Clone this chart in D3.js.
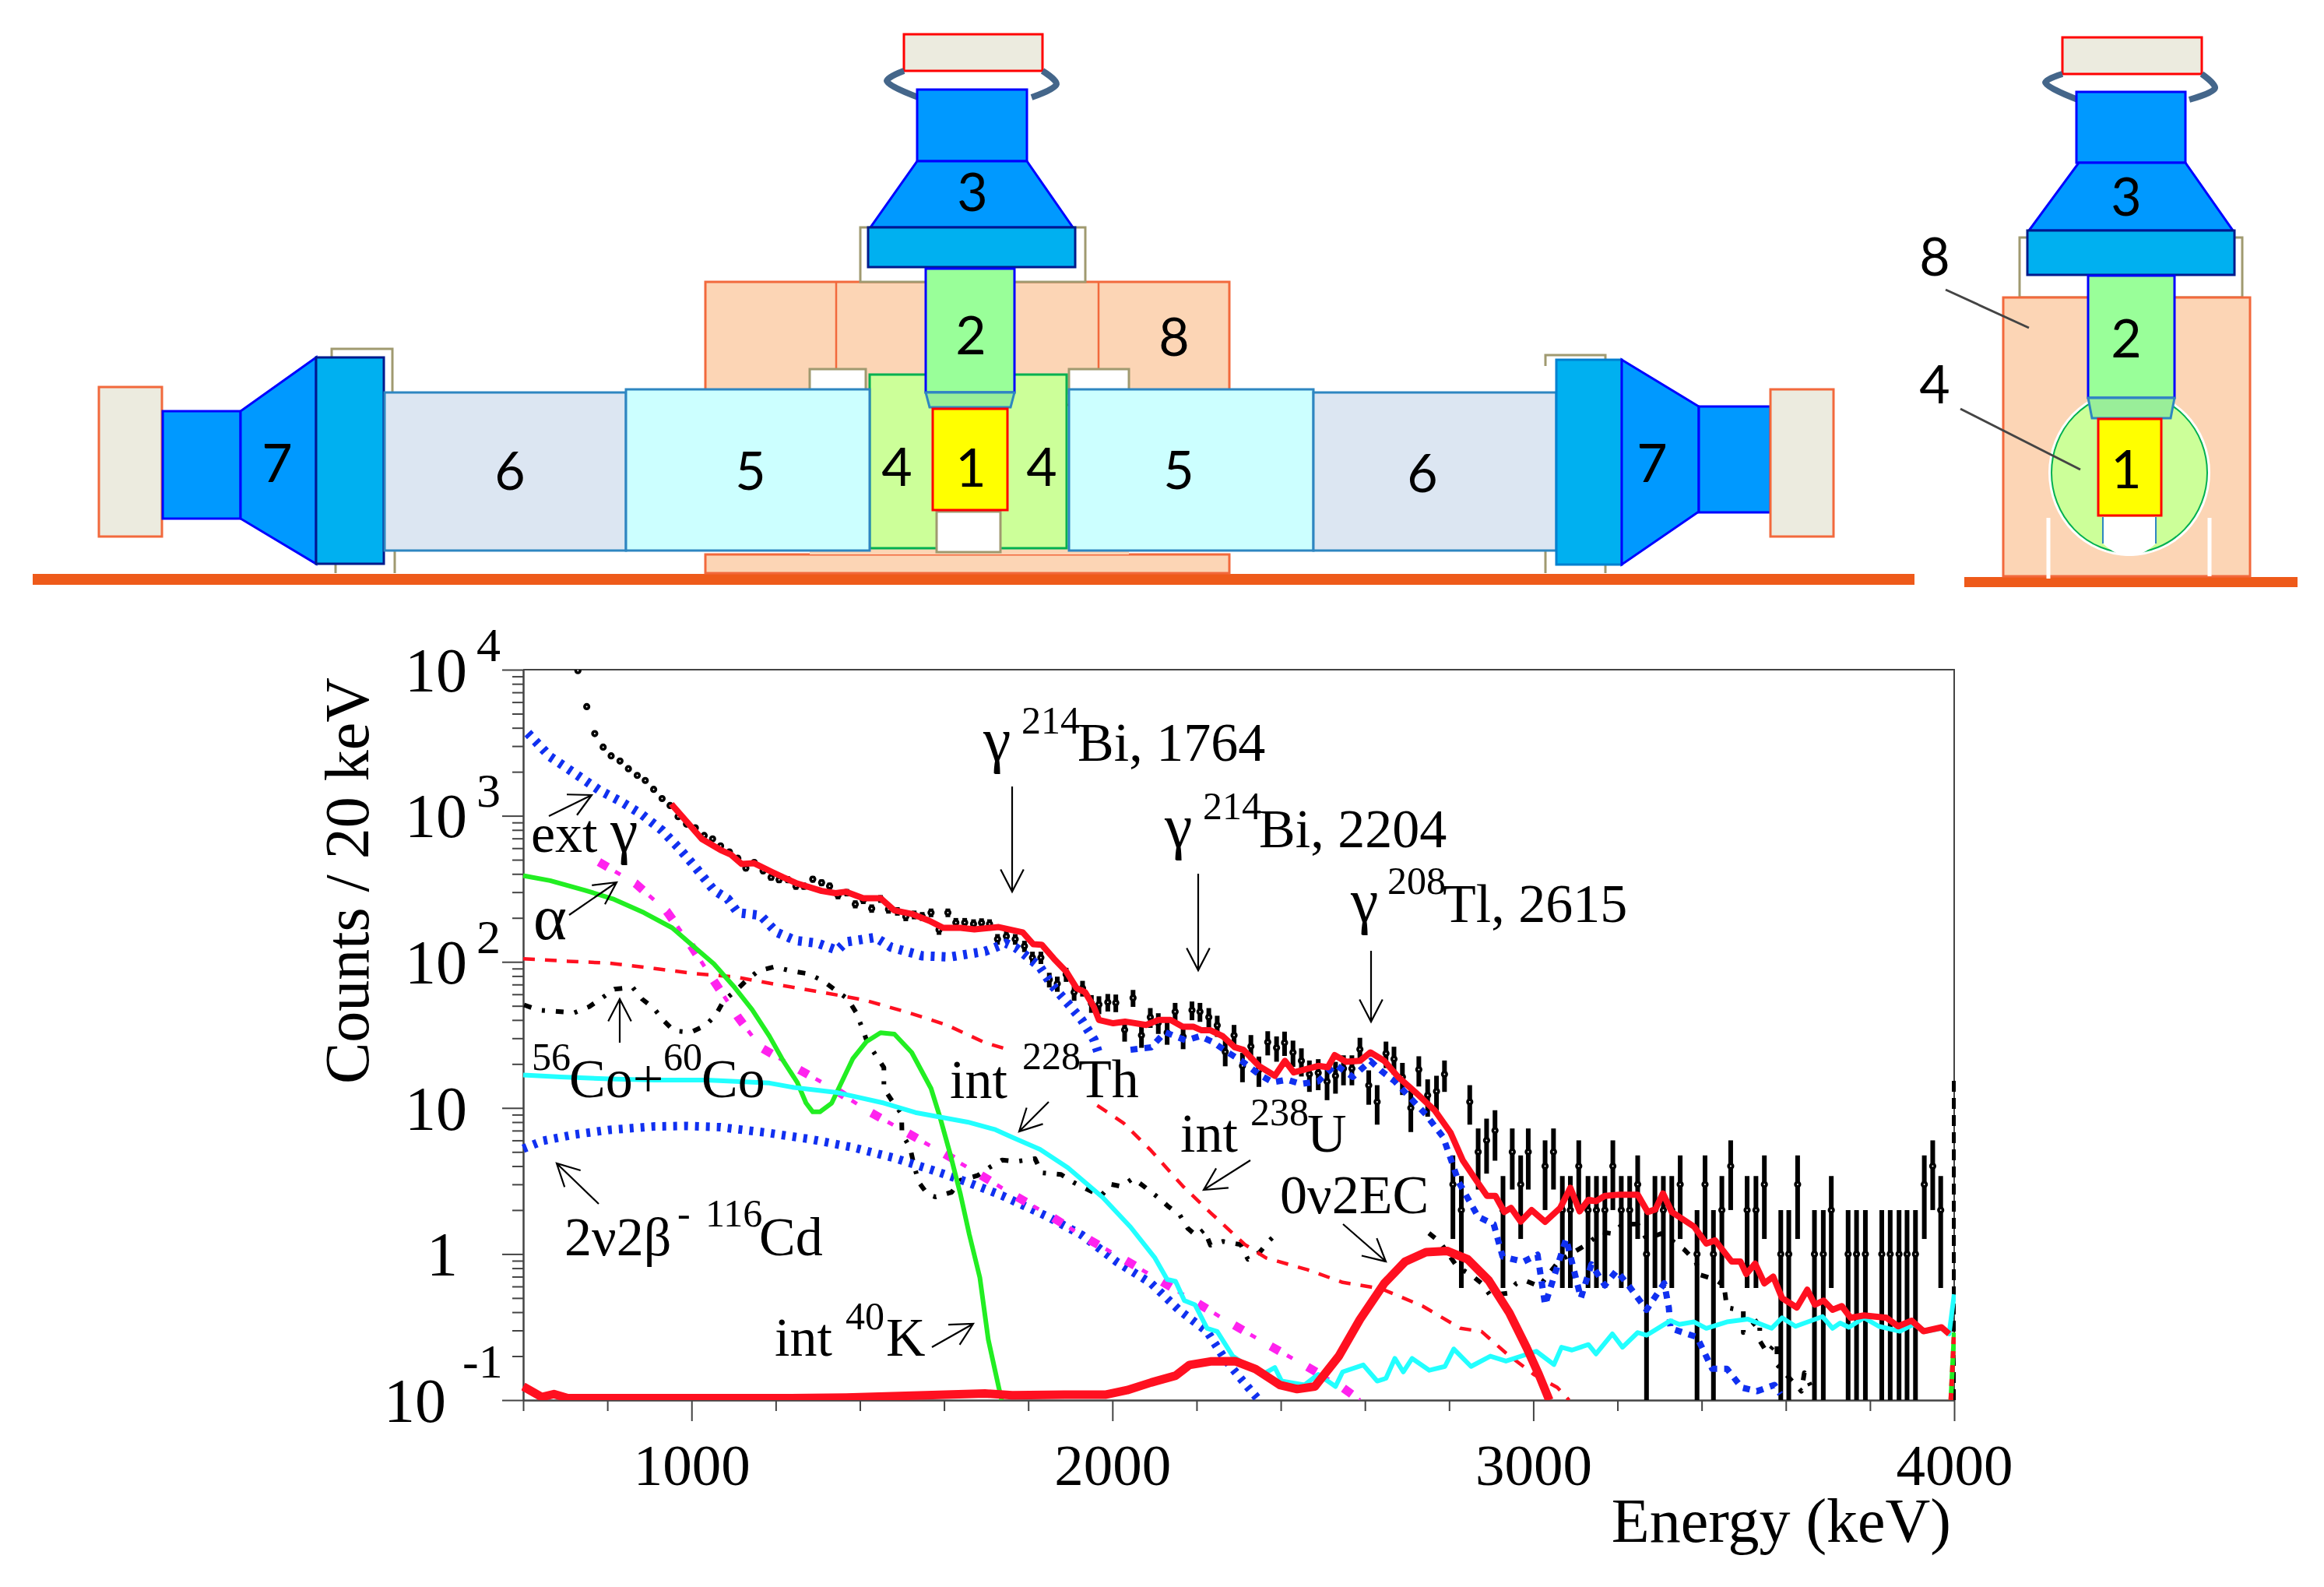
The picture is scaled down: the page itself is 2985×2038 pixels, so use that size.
<!DOCTYPE html>
<html>
<head>
<meta charset="utf-8">
<title>Spectrum</title>
<script src="https://cdn.jsdelivr.net/npm/d3@7"></script>
<style>
  body { margin: 0; background: #fff; }
  text { font-family: "Liberation Serif", serif; fill: #000; }
  .part { font-family: Lato, sans-serif; font-size: 68px; }
</style>
</head>
<body>
<div id="chart"></div>
<script>
// Values: [energy keV, counts / 20 keV]
const dataPoints = [
  [730,9860],[751,5585],[770,3650],[790,2950],[809,2570],[830,2370],[850,2100],[871,1890],[890,1745],[910,1517],
  [930,1312],[949,1175],[968,987],[988,877],[1009,828],[1030,733],[1050,695],[1069,622],[1090,565],[1110,512],
  [1129,438],[1149,479],[1170,420],[1189,379],[1208,365],[1229,365],[1248,330],[1267,330],[1288,368],[1309,348],
  [1328,330],[1348,285],[1369,298],[1389,248],[1408,265],[1428,232],[1449,270],[1468,229],[1489,222],[1509,204],
  [1529,210],[1548,205],[1569,217],[1588,166],[1609,217],[1628,186],[1649,186],[1670,182],[1689,185],[1708,182],
  [1727,143],[1748,150],[1769,143],[1791,128],[1810,107],[1830,107],[1850,75.5],[1869,70.8],[1890,82],[1909,62],
  [1929,66],[1950,52],[1968,51],[1989,53],[2008,52.5],[2029,34.3],[2049,56.7],[2069,31.4],[2090,41.8],[2109,38.3],
  [2130,32.8],[2149,45.6],[2168,30.8],[2189,46.7],[2208,45.6],[2229,41.8],[2249,36.7],[2268,24.2],[2289,31.4],[2309,19.4],
  [2329,26.4],[2348,18.2],[2369,28.2],[2390,25.8],[2409,28],[2429,24],[2449,21],[2468,17],[2489,17.4],[2510,15.2],
  [2530,16.6],[2549,18.6],[2569,18.6],[2588,25.2],[2609,14.3],[2629,11],[2650,23.6],[2669,21.6],[2689,16.3],[2709,10],
  [2728,18.3],[2749,12.2],[2770,13],[2789,17],[2809,3],[2829,2],[2849,11],[2869,5],[2889,6],[2909,7],
  [2928,2],[2950,5],[2970,3],[2988,5],[3028,4],[3048,5],[3069,2],[3088,2],[3108,4],[3130,2],
  [3150,2],[3170,2],[3189,4],[3209,2],[3229,2],[3248,3],[3269,1],[3289,2],[3309,2],[3329,2],
  [3349,3],[3389,1],[3408,3],[3428,1],[3448,2],[3469,4],[3508,2],[3529,2],[3549,3],[3588,1],
  [3607,1],[3628,3],[3668,1],[3689,1],[3708,2],[3748,1],[3768,1],[3789,1],[3828,1],[3848,1],
  [3869,1],[3888,1],[3908,1],[3929,3],[3949,4],[3968,2]
];

const totalFit = [
  [952,1202],[978,987],[1024,695],[1069,583],[1094,541],[1119,468],[1148,474],[1193,410],[1218,379],[1251,344],
  [1309,306],[1342,295],[1367,302],[1408,273],[1449,273],[1482,225],[1523,213],[1565,191],[1598,171],[1639,171],
  [1672,167],[1730,173],[1787,159],[1812,132],[1832,131],[1861,105],[1890,86],[1915,66],[1935,62],[1956,49],
  [1968,40],[2002,38],[2030,39],[2080,37],[2109,40],[2138,40],[2167,36],[2192,36],[2212,34],[2233,34],
  [2262,31],[2291,26],[2311,25],[2348,19.4],[2386,16.6],[2410,21],[2431,17.5],[2489,19.4],[2512,19],[2528,23],
  [2555,20.7],[2588,21],[2613,24],[2646,21],[2679,16.3],[2720,12.8],[2766,9.6],[2803,6.8],[2832,4.4],[2861,3.3],
  [2890,2.5],[2910,2.5],[2931,1.94],[2947,2.07],[2970,1.67],[2996,2],[3028,1.66],[3064,2.07],[3088,2.84],[3110,1.96],
  [3131,2.35],[3149,2.3],[3170,2.5],[3205,2.55],[3248,2.55],[3272,1.94],[3290,2.02],[3308,2.6],[3329,1.94],[3382,1.54],
  [3411,1.18],[3432,1.24],[3471,0.89],[3492,0.89],[3506,0.73],[3527,0.86],[3549,0.63],[3570,0.7],[3591,0.5],[3626,0.43],
  [3651,0.57],[3669,0.45],[3690,0.48],[3711,0.415],[3733,0.44],[3754,0.366],[3786,0.38],[3839,0.366],[3867,0.32],[3899,0.35],
  [3927,0.296],[3970,0.315],[3988,0.284]
];

const extGammaA = [
  [611,3680],[664,2535],[713,2035],[781,1496],[831,1256],[880,1031],[930,793],[971,596],[1011,438],[1053,309],
  [1086,270],[1110,217],[1164,208],[1201,160],[1247,140],[1300,134],[1346,120],[1367,137],[1437,147],[1474,126],
  [1548,110],[1614,108],[1697,118],[1747,134],[1770,125],[1795,110],[1828,92],[1857,69],[1894,52],[1927,40],
  [1956,29.4],[1966,24]
];
const extGammaB = [
  [2043,25],[2092,26],[2125,33],[2175,29],[2208,31],[2241,28],[2274,24],[2307,21],[2348,17],[2381,15],
  [2415,15.6],[2448,14.6],[2489,15.2],[2530,19.8],[2571,16.3],[2613,21],[2638,18],[2671,15.2],[2708,11.7],[2745,9],
  [2786,6.3],[2823,3.1],[2869,1.8],[2906,1.6],[2927,0.96],[2976,0.885],[3010,0.99],[3028,0.45],[3078,1.27],[3113,0.5],
  [3138,0.85],[3170,0.61],[3198,0.77],[3226,0.61],[3269,0.415],[3311,0.63],[3322,0.43],[3326,0.31],[3389,0.27],[3425,0.164],
  [3460,0.164],[3495,0.122],[3531,0.115],[3573,0.127],[3587,0.11]
];

const alphaBg = [
  [780,483],[867,344],[941,222],[999,129],[1053,74],[1110,42],[1164,26],[1251,18.6],[1338,13.5],[1420,9.5],
  [1511,6.8],[1598,4.9],[1685,3.5],[1763,2.56],[1849,1.85],[1931,1.32],[2022,0.94],[2109,0.67],[2192,0.48],[2278,0.34],
  [2369,0.24],[2456,0.174],[2543,0.124],[2588,0.1]
];

const k40 = [
  [600,389],[664,360],[747,309],[813,270],[887,217],[954,171],[1003,129],[1053,97],[1102,67],[1144,47],
  [1185,31],[1218,21],[1251,15],[1272,10.8],[1288,9.4],[1305,9.4],[1333,10.8],[1383,21.7],[1416,28.5],[1449,32.7],
  [1482,32],[1523,24],[1569,13.6],[1590,8.7],[1614,4.9],[1639,2.56],[1660,1.36],[1685,0.69],[1705,0.26],[1730,0.122],
  [1737,0.1]
];

const th228A = [
  [600,105],[706,101],[805,98],[912,90],[1011,83],[1102,79],[1201,70],[1309,62],[1408,55],[1515,45],
  [1606,37],[1697,28],[1755,25]
];
const th228B = [
  [1964,10.4],[2026,7.9],[2092,5.1],[2167,2.92],[2233,1.92],[2315,1.16],[2365,0.94],[2464,0.78],[2547,0.64],[2638,0.58],
  [2737,0.44],[2827,0.31],[2877,0.295],[2935,0.21],[3001,0.15],[3057,0.122],[3085,0.1]
];

const cyanCurve = [
  [600,16.8],[689,16.3],[805,15.8],[912,15.5],[1036,15.5],[1185,14.8],[1243,13.8],[1342,12.8],[1457,10.8],[1532,9.3],
  [1656,8],[1722,7.1],[1762,6.3],[1828,5.2],[1894,3.9],[1977,2.44],[2043,1.53],[2101,0.94],[2130,0.67],[2150,0.65],
  [2171,0.48],[2196,0.45],[2225,0.31],[2249,0.295],[2286,0.2],[2332,0.163],[2357,0.15],[2386,0.167],[2402,0.135],[2456,0.127],
  [2489,0.15],[2530,0.124],[2547,0.156],[2596,0.174],[2629,0.135],[2650,0.141],[2671,0.193],[2691,0.156],[2712,0.193],[2753,0.16],
  [2790,0.17],[2811,0.224],[2852,0.17],[2898,0.2],[2935,0.185],[3007,0.216],[3049,0.175],[3067,0.23],[3092,0.22],[3131,0.24],
  [3149,0.207],[3188,0.284],[3212,0.23],[3248,0.29],[3269,0.278],[3326,0.35],[3347,0.33],[3382,0.343],[3411,0.31],[3460,0.343],
  [3510,0.358],[3566,0.31],[3591,0.366],[3623,0.32],[3687,0.373],[3711,0.31],[3729,0.337],[3750,0.315],[3786,0.366],[3821,0.32],
  [3871,0.296],[3903,0.33],[3934,0.296],[3970,0.31],[3988,0.284],[4000,0.53]
];

const cd2v2b = [
  [600,5.26],[648,5.97],[722,6.58],[805,7.08],[912,7.47],[987,7.53],[1069,7.38],[1177,6.78],[1284,6.1],[1383,5.37],
  [1482,4.54],[1573,3.75],[1656,3.1],[1738,2.51],[1845,1.81],[1927,1.35],[2010,0.885],[2092,0.63],[2158,0.414],[2225,0.295],
  [2266,0.193],[2307,0.138],[2348,0.1]
];

const ec0v2 = [
  [600,0.124],[644,0.105],[673,0.11],[706,0.103],[850,0.103],[1036,0.103],[1200,0.103],[1367,0.104],[1697,0.111],[1762,0.108],
  [1886,0.109],[1985,0.109],[2035,0.117],[2092,0.132],[2150,0.147],[2183,0.174],[2233,0.184],[2291,0.185],[2340,0.163],[2398,0.127],
  [2439,0.119],[2481,0.124],[2538,0.2],[2588,0.356],[2646,0.63],[2695,0.885],[2745,1.03],[2795,1.05],[2844,0.92],[2894,0.66],
  [2943,0.396],[2984,0.229],[3013,0.15],[3038,0.1]
];

// black dash-dot curve that the 56Co+60Co arrow points at
const blackA = [
  [602,50.7],[636,46.8],[677,45.8],[721,44.8],[757,49.3],[786,56.3],[817,65],[860,67],[882,55.8],[911,47.9],
  [933,39.8],[958,33.7],[999,33],[1034,36.8],[1058,43.5],[1077,54.6],[1104,63],[1129,74],[1158,86.5],[1197,92.5],
  [1238,86.5],[1278,82.8],[1313,74],[1342,64],[1371,55.8],[1391,45],[1405,35.5],[1418,28],[1439,22.7],[1457,18.9],
  [1457,13.6],[1478,11],[1499,9.1],[1500,6.6],[1519,5.4],[1529,4],[1540,3.1],[1561,2.56],[1580,2.46],[1618,2.65],
  [1639,3.2],[1680,3.45],[1707,3.9],[1738,4.4],[1772,4.3],[1816,4.5],[1832,3.6],[1878,3.5],[1907,3.1],[1940,2.77],
  [1973,2.5],[1997,3],[2022,2.9],[2049,3.3],[2078,2.86],[2106,2.47],[2134,2.1],[2160,1.85],[2179,1.5],[2200,1.33],
  [2218,1.47],[2233,1.15],[2263,1.22],[2305,1.16],[2322,0.92],[2350,1.03],[2372,1.23],[2398,1.45]
];
const blackB = [
  [2752,1.39],[2778,1.21],[2819,0.82],[2852,0.72],[2877,0.63],[2898,0.52],[2939,0.54],[2960,0.63],[2980,0.66],[3014,0.6],
  [3060,0.89],[3124,1.15],[3163,1.41],[3188,1.38],[3212,1.6],[3248,1.6],[3269,1.27],[3304,1.38],[3329,1.24],[3359,1.07],
  [3386,0.89],[3396,0.72],[3432,0.67],[3453,0.61],[3460,0.43],[3499,0.41],[3499,0.29],[3538,0.36],[3538,0.255],[3556,0.21],
  [3579,0.25],[3579,0.175],[3637,0.115],[3644,0.154],[3662,0.12]
];

// overflow bin at the right edge of the spectrum
const edgeBlack = [[4000,0.1],[4000,16]];
const edgeGreen = [[3992,0.1],[4000,0.29]];
const edgeRed = [[3992,0.1],[4000,0.29]];

const xMajor = [1000, 2000, 3000, 4000];
const xMinor = [600, 800, 1200, 1400, 1600, 1800, 2200, 2400, 2600, 2800, 3200, 3400, 3600, 3800];
const yMajor = [1e4, 1e3, 100, 10, 1, 0.1];
const yExponent = ["4", "3", "2", "", "", "-1"];
const yMantissa = ["10", "10", "10", "10", "1", "10"];

const width = 2985, height = 2038;
const plot = { left: 672, right: 2510, top: 860, bottom: 1798 };

const svg = d3.select("#chart").append("svg")
    .attr("width", width)
    .attr("height", height)
    .style("display", "block");

// ---------- detector drawing ----------
const draw = svg.append("g");
const BLUE = "#0099ff", FLANGE = "#00b0f0", ORANGE = "#fcd5b5", ORANGE_LINE = "#f2693c",
      OLIVE = "#a09a70", CREAM = "#ecebdf", STEEL = "#2e86c1", PALE = "#ccffff", GREY_BLUE = "#dce6f2";

function box(x0, y0, x1, y1, fill, stroke, sw = 3) {
  draw.append("rect").attr("x", x0).attr("y", y0).attr("width", x1 - x0).attr("height", y1 - y0)
      .attr("fill", fill).attr("stroke", stroke).attr("stroke-width", sw);
}
function poly(points, fill, stroke, sw = 3) {
  draw.append("polygon").attr("points", points.join(" "))
      .attr("fill", fill).attr("stroke", stroke).attr("stroke-width", sw);
}
function ring(p0, p1, p2) {
  draw.append("path").attr("fill", "none").attr("stroke", "#44668a").attr("stroke-width", 8)
      .attr("d", d3.line().curve(d3.curveCatmullRom)([p0, p1, p2]));
}
function part(label, x, y) {
  draw.append("text").attr("class", "part").attr("x", x).attr("y", y)
      .attr("text-anchor", "middle").attr("dominant-baseline", "central").text(label);
}

// floors
box(42, 737, 2459, 751, "#ee5a1a", "none", 0);
box(2523, 741, 2951, 754, "#ee5a1a", "none", 0);

// front view: lead, shield blocks
box(906, 362, 1579, 520, ORANGE, ORANGE_LINE);
box(906, 712, 1579, 736, ORANGE, ORANGE_LINE);
box(1040, 700, 1450, 712, ORANGE, "none", 0);
draw.append("path").attr("d", "M1074,362V474M1411,362V474").attr("stroke", ORANGE_LINE).attr("stroke-width", 2.5);
box(1040, 474, 1112, 505, "#fff", OLIVE);
box(1373, 474, 1450, 505, "#fff", OLIVE);
box(1105, 292, 1394, 362, "#fff", OLIVE);
box(1117, 481, 1370, 704, "#ccff99", "#00b050");
box(1203, 657, 1285, 709, "#fff", OLIVE);

// side olive frames
draw.append("path").attr("fill", "none").attr("stroke", OLIVE).attr("stroke-width", 3)
    .attr("d", "M426,470V448H504V510M431,720V736M507,700V736M1985,470V456H2062V470M1985,700V736M2062,720V736");

// left arm
box(127, 497, 208, 689, CREAM, ORANGE_LINE);
box(209, 528, 309, 666, BLUE, "#0000ff");
poly([[406, 459], [309, 528], [309, 666], [406, 724]], BLUE, "#0000ff");
box(406, 459, 493, 724, FLANGE, "#001a8c");
box(494, 504, 804, 707, GREY_BLUE, STEEL);
box(804, 500, 1117, 707, PALE, STEEL);

// right arm
box(1373, 500, 1687, 707, PALE, STEEL);
box(1687, 504, 1999, 707, GREY_BLUE, STEEL);
box(1999, 462, 2083, 725, FLANGE, "#0080d0");
poly([[2083, 462], [2182, 522], [2182, 657], [2083, 725]], BLUE, "#0000ff");
box(2182, 522, 2274, 658, BLUE, "#0000ff");
box(2274, 500, 2355, 689, CREAM, ORANGE_LINE);

// top arm, front view
box(1161, 44, 1339, 91, CREAM, "#ff0000");
ring([1161, 91], [1139, 104], [1182, 126]);
ring([1339, 91], [1357, 108], [1325, 125]);
box(1178, 115, 1319, 207, BLUE, "#0000ff");
poly([[1178, 207], [1319, 207], [1378, 292], [1118, 292]], BLUE, "#0000ff");
box(1115, 292, 1381, 343, FLANGE, "#001a8c");
box(1189, 345, 1303, 504, "#99ff99", "#0000ff");
poly([[1189, 504], [1303, 504], [1298, 523], [1194, 523]], "#99ee99", STEEL);
box(1198, 525, 1294, 655, "#ffff00", "#ff0000");

// side view
box(2594, 305, 2880, 382, "#fff", OLIVE);
box(2573, 382, 2890, 740, ORANGE, ORANGE_LINE);
draw.append("ellipse").attr("cx", 2735).attr("cy", 607).attr("rx", 104).attr("ry", 107).attr("fill", "#fff");
draw.append("path").attr("d", "M2631,665V743M2838,665V740").attr("stroke", "#fff").attr("stroke-width", 5);
draw.append("ellipse").attr("cx", 2735).attr("cy", 607).attr("rx", 100).attr("ry", 103)
    .attr("fill", "#ccff99").attr("stroke", "#00b050").attr("stroke-width", 2);
box(2649, 48, 2828, 95, CREAM, "#ff0000");
ring([2649, 95], [2627, 106], [2674, 130]);
ring([2828, 95], [2845, 113], [2812, 128]);
box(2667, 118, 2807, 209, BLUE, "#0000ff");
poly([[2670, 209], [2807, 209], [2868, 296], [2606, 296]], BLUE, "#0000ff");
box(2604, 296, 2870, 353, FLANGE, "#001a8c");
box(2682, 354, 2793, 511, "#99ff99", "#0000ff");
poly([[2682, 511], [2793, 511], [2788, 537], [2687, 537]], "#99ee99", STEEL);
box(2695, 538, 2776, 662, "#ffff00", "#ff0000");
draw.append("path").attr("fill", "#fff").attr("d", "M2701,664V698Q2735,730 2769,698V664Z");
draw.append("path").attr("fill", "none").attr("stroke", STEEL).attr("stroke-width", 2)
    .attr("d", "M2701,664V698M2769,664V698");
draw.append("path").attr("d", "M2499,372L2606,421M2518,525L2672,603").attr("stroke", "#444").attr("stroke-width", 3);

// part numbers
[["3", 1249, 244], ["2", 1247, 428], ["8", 1508, 430], ["4", 1152, 597], ["1", 1247, 598], ["4", 1338, 597],
 ["5", 964, 602], ["6", 655, 602], ["7", 356, 592], ["5", 1514, 601], ["6", 1827, 605], ["7", 2122, 592],
 ["3", 2731, 250], ["2", 2731, 432], ["1", 2731, 600], ["8", 2485, 327], ["4", 2485, 491]]
  .forEach(d => part(d[0], d[1], d[2]));

// ---------- spectrum ----------
const xScale = d3.scaleLinear().domain([600, 4000]).range([plot.left, plot.right]);
const yScale = d3.scaleLog().domain([0.1, 1e4]).range([plot.bottom, plot.top]);

const yMinor = [];
yMajor.slice(1).forEach(m => [2, 3, 4, 5, 6, 7, 8, 9].forEach(k => yMinor.push(m * k)));

const AXIS = "#444";
function styleAxis(g) {
  g.selectAll("line,path").attr("stroke", AXIS).attr("stroke-width", 2);
}
svg.append("g").attr("transform", `translate(0,${plot.bottom})`)
    .call(d3.axisBottom(xScale).tickValues(xMinor).tickSize(14).tickSizeOuter(0).tickFormat(""))
    .call(styleAxis);
const xAxis = svg.append("g").attr("transform", `translate(0,${plot.bottom})`)
    .call(d3.axisBottom(xScale).tickValues(xMajor).tickSize(27).tickSizeOuter(0).tickFormat(d3.format("d")))
    .call(styleAxis);
xAxis.selectAll("text").attr("y", 55).attr("dy", "0.72em")
    .style("font-family", "Liberation Serif").style("font-size", "75px").attr("fill", "#000");

svg.append("g").attr("transform", `translate(${plot.left},0)`)
    .call(d3.axisLeft(yScale).tickValues(yMinor).tickSize(14).tickSizeOuter(0).tickFormat(""))
    .call(styleAxis);
const yAxis = svg.append("g").attr("transform", `translate(${plot.left},0)`)
    .call(d3.axisLeft(yScale).tickValues(yMajor).tickSize(27).tickSizeOuter(0).tickFormat((d, i) => yMantissa[i]))
    .call(styleAxis);
yAxis.selectAll(".tick text")
    .attr("x", (d, i) => (yExponent[i] === "-1" ? 573 : yMantissa[i] === "1" ? 588 : 600) - plot.left)
    .attr("dy", "0.34em")
    .style("font-family", "Liberation Serif").style("font-size", "80px").attr("fill", "#000");
yAxis.selectAll(".tick").append("text")
    .attr("x", (d, i) => (yExponent[i] === "-1" ? 594 : 612) - plot.left)
    .attr("y", (d, i) => (yExponent[i] === "-1" ? -30 : -12))
    .attr("fill", "#000")
    .attr("text-anchor", "start")
    .style("font-family", "Liberation Serif").style("font-size", "62px")
    .text((d, i) => yExponent[i]);

svg.append("path").attr("fill", "none").attr("stroke", AXIS).attr("stroke-width", 2)
    .attr("d", `M${plot.left},${plot.top}H${plot.right}V${plot.bottom}`);

svg.append("text").attr("transform", "translate(473,1131) rotate(-90)")
    .attr("text-anchor", "middle").style("font-size", "80px").text("Counts / 20 keV");
svg.append("text").attr("x", 2506).attr("y", 1980)
    .attr("text-anchor", "end").style("font-size", "80px").text("Energy (keV)");

svg.append("clipPath").attr("id", "plotClip").append("rect")
    .attr("x", plot.left - 2).attr("y", plot.top)
    .attr("width", plot.right - plot.left + 4).attr("height", plot.bottom - plot.top);
const marks = svg.append("g").attr("clip-path", "url(#plotClip)");

const line = d3.line().x(d => xScale(d[0])).y(d => yScale(d[1]));
function curve(values, color, sw, dash, offset) {
  marks.append("path").datum(values)
      .attr("fill", "none")
      .attr("stroke", color)
      .attr("stroke-width", sw)
      .attr("stroke-linejoin", "round")
      .attr("stroke-dasharray", dash || null)
      .attr("stroke-dashoffset", offset || null)
      .attr("d", line);
}

// measured points, error bars are sqrt(counts)
marks.selectAll(".err").data(dataPoints).enter().append("line")
    .attr("class", "err")
    .attr("x1", d => xScale(d[0])).attr("x2", d => xScale(d[0]))
    .attr("y1", d => yScale(Math.max(d[1] - Math.sqrt(d[1]), 0.05)))
    .attr("y2", d => yScale(d[1] + Math.sqrt(d[1])))
    .attr("stroke", "#000").attr("stroke-width", 6);
marks.selectAll(".pt").data(dataPoints).enter().append("circle")
    .attr("class", "pt")
    .attr("cx", d => xScale(d[0])).attr("cy", d => yScale(d[1]))
    .attr("r", 2.8).attr("fill", "#fff").attr("stroke", "#000").attr("stroke-width", 3.6);

const DOTTED = "5 9";
const KDASH = "10 14 4 14";

curve(blackA, "#000", 6, KDASH);
curve(blackB, "#000", 6, KDASH);
curve(edgeBlack, "#000", 6, "14 8");
curve(cd2v2b, "#1030f0", 11, DOTTED);
// the dash-dot curve has thick dashes and thin dots between them
curve(alphaBg, "#ff22ee", 11, "13 41");
curve(alphaBg, "#ff22ee", 5, "8 46", -24);
curve(extGammaA, "#1030f0", 12, DOTTED);
curve(extGammaB, "#1030f0", 8, "9 9");
curve(th228A, "#ff1020", 4.5, "15 13");
curve(th228B, "#ff1020", 4.5, "15 13");
curve(k40, "#22ee22", 6);
curve(edgeGreen, "#22ee22", 6);
curve(edgeRed, "#ff1020", 6, "9 9");
curve(cyanCurve, "#22ffff", 6);
curve(totalFit, "#ff1020", 8);
curve(ec0v2, "#ff1020", 11);

// ---------- labels and arrows ----------
const notes = svg.append("g");
function run(x, y, label, size = 70) {
  notes.append("text").attr("x", x).attr("y", y).style("font-size", size + "px").text(label);
}
function arrow(x1, y1, x2, y2) {
  const a = Math.atan2(y1 - y2, x1 - x2), len = 32, spread = 0.48;
  const barb = s => [x2 + len * Math.cos(a + s), y2 + len * Math.sin(a + s)];
  const p1 = barb(spread), p2 = barb(-spread);
  notes.append("path").attr("fill", "none").attr("stroke", "#000").attr("stroke-width", 2.2)
      .attr("d", `M${x1},${y1}L${x2},${y2}M${p1}L${x2},${y2}L${p2}`);
}

run(1263, 977, "γ", 80); run(1312, 942, "214", 50); run(1384, 977, "Bi, 1764");
run(1496, 1088, "γ", 80); run(1545, 1052, "214", 50); run(1617, 1088, "Bi, 2204");
run(1735, 1184, "γ", 80); run(1782, 1148, "208", 50); run(1853, 1184, "Tl, 2615");
run(682, 1094, "ext"); run(784, 1094, "γ", 80);
run(685, 1206, "α", 82);
run(683, 1374, "56", 50); run(731, 1409, "Co+"); run(852, 1374, "60", 50); run(901, 1409, "Co");
run(1220, 1410, "int"); run(1313, 1373, "228", 50); run(1385, 1409, "Th");
run(1516, 1479, "int"); run(1606, 1445, "238", 50); run(1679, 1479, "U");
run(1644, 1558, "0ν2EC");
run(725, 1612, "2ν2β"); run(870, 1575, "-", 50); run(906, 1575, "116", 50); run(975, 1612, "Cd");
run(995, 1741, "int"); run(1086, 1707, "40", 50); run(1138, 1741, "K");

arrow(705, 1048, 760, 1021);
arrow(731, 1175, 792, 1133);
arrow(796, 1339, 796, 1283);
arrow(1300, 1010, 1300, 1145);
arrow(1539, 1122, 1539, 1246);
arrow(1761, 1221, 1761, 1312);
arrow(1347, 1415, 1309, 1453);
arrow(1606, 1490, 1546, 1528);
arrow(1725, 1572, 1780, 1620);
arrow(769, 1546, 715, 1494);
arrow(1197, 1730, 1250, 1700);
</script>
</body>
</html>
